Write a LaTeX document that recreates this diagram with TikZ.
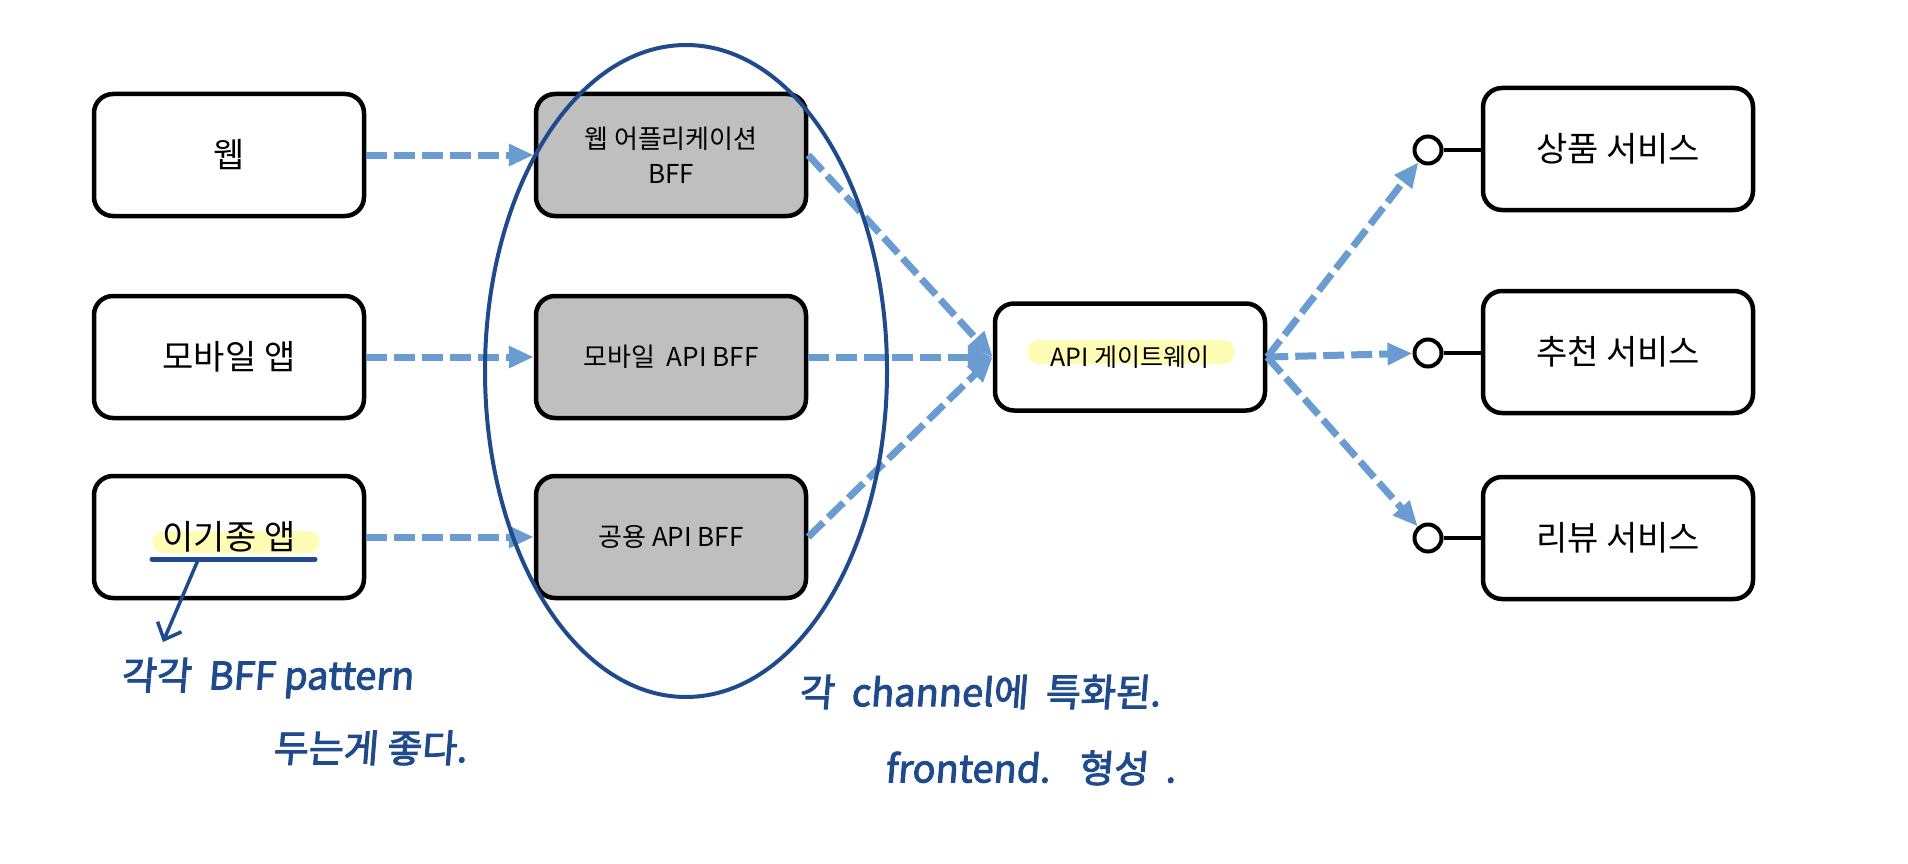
\documentclass[tikz,border=0pt]{standalone}
\usepackage{fontspec}
\setmainfont{Noto Sans CJK KR}
\newfontfamily\handfont[FakeSlant=0.08,FakeBold=2.5]{Noto Sans CJK KR}
\usetikzlibrary{arrows.meta,positioning,backgrounds,calc}
\definecolor{flowblue}{HTML}{6A9BD1}
\definecolor{penblue}{HTML}{1F4A8C}
\definecolor{bffgray}{HTML}{BFBFBF}
\definecolor{marker}{HTML}{FFFCB5}
\tikzset{every picture/.style={line width=4pt}}
\tikzset{
  box/.style={draw=black, line width=4.5pt, rounded corners=19pt, minimum width=270pt, minimum height=122pt, align=center, inner sep=0pt, font=\fontsize{34}{40}\selectfont},
  bffbox/.style={box, fill=bffgray, font=\fontsize{26}{35}\selectfont},
  port/.style={circle, draw=black, line width=4pt, minimum size=27pt, inner sep=0pt, fill=white},
  flow/.style={draw=flowblue, line width=7pt, dash pattern=on 21pt off 7pt, -{Triangle[length=25pt,width=21pt]}},
  hilite/.style={fill=marker, rounded corners=11pt, inner sep=0pt},
  note/.style={text=penblue, font=\handfont\fontsize{38}{44}\selectfont, anchor=west, inner sep=0pt},
}
\begin{document}
\begin{tikzpicture}[x=1pt,y=1pt,yscale=-1]
\useasboundingbox (0,0) rectangle (1908,864);

% clients
\node[box] (web) at (229,155) {웹};
\node[box] (mobile) at (229,357) {모바일 앱};
\node[box] (hetero) at (229,537) {이기종 앱};

% BFF layer
\node[bffbox] (webbff) at (671,155) {웹 어플리케이션\\BFF};
\node[bffbox] (mobilebff) at (671,357) {모바일\ \ API BFF};
\node[bffbox] (commonbff) at (671,537) {공용 API BFF};

% gateway
\node[box, minimum height=107pt, font=\fontsize{25}{30}\selectfont] (gateway) at (1130,357) {API 게이트웨이};

% services
\node[box] (product) at (1618,149) {상품 서비스};
\node[box] (recommend) at (1618,352) {추천 서비스};
\node[box] (review) at (1618,538) {리뷰 서비스};

% ports
\node[port] (pproduct) at (1428,150) {};
\node[port] (precommend) at (1428,353) {};
\node[port] (preview) at (1428,538) {};
\draw (pproduct.east) -- (pproduct.east -| product.west);
\draw (precommend.east) -- (precommend.east -| recommend.west);
\draw (preview.east) -- (preview.east -| review.west);

% markers
\begin{scope}[on background layer]
\node[hilite, minimum width=167pt, minimum height=22pt] (heteromark) at ($(hetero.center)+(7,5)$) {};
\node[hilite, minimum width=207pt, minimum height=24pt] (gatewaymark) at ($(gateway.center)+(1,-5)$) {};
\end{scope}

% flows
\draw[flow] (web) -- (webbff);
\draw[flow] (mobile) -- (mobilebff);
\draw[flow] (hetero) -- (commonbff);
\draw[flow] (webbff.east) -- (gateway.west);
\draw[flow] (mobilebff) -- (gateway);
\draw[flow] (commonbff.east) -- (gateway.west);
\draw[flow] (gateway.east) -- (pproduct);
\draw[flow] (gateway.east) -- (precommend);
\draw[flow] (gateway.east) -- (preview);

% BFF group
\draw[penblue] (686,371) ellipse [x radius=201, y radius=326];

% handwritten notes
\coordinate (ulleft) at (152,559);
\coordinate (ulright) at (315,559);
\coordinate (ulmid) at (198,560);
\coordinate (notetip) at (163,642);
\draw[penblue, line width=5pt, line cap=round] (ulleft) -- (ulright);
\draw[penblue, line width=3.5pt, -{Straight Barb[length=14pt,width=26pt]}] (ulmid) -- (notetip);
\node[note] (noteone) at (119,678) {각각 \ BFF pattern};
\node[note] (notetwo) at (271,748) {두는게 좋다.};
\node[note] (notethree) at (797,692) {각 \ channel에 \ 특화된.};
\node[note] (notefour) at (883,768) {frontend. \ \ 형성 \ .};

\end{tikzpicture}
\end{document}
